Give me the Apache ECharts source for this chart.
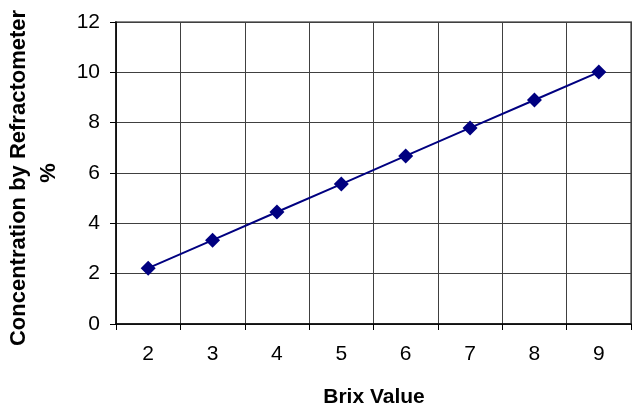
<!DOCTYPE html>
<html>
<head>
<meta charset="utf-8">
<script src="https://cdn.jsdelivr.net/npm/echarts@6/dist/echarts.min.js"></script>
<style>
html,body{margin:0;padding:0;background:#fff;}
#chart{width:632px;height:409px;}
</style>
</head>
<body>
<div id="chart"></div>
<script>
var categories = ['2', '3', '4', '5', '6', '7', '8', '9'];
var concentration = [2.22, 3.33, 4.45, 5.56, 6.68, 7.79, 8.90, 10.01];
var yTitleLine1 = 'Concentration by Refractometer';
var yTitleLine2 = '%';
var xTitle = 'Brix Value';

var chart = echarts.init(document.getElementById('chart'), null, {renderer: 'canvas'});
var FONT = '"Liberation Sans", Arial, sans-serif';
chart.setOption({
  animation: false,
  backgroundColor: '#ffffff',
  grid: {
    left: 116, right: 1, top: 22, bottom: 85,
    show: true, borderColor: '#888888', borderWidth: 2, backgroundColor: 'transparent'
  },
  xAxis: {
    type: 'category',
    data: categories,
    boundaryGap: true,
    axisLine: {show: true, lineStyle: {color: '#000', width: 1.5}},
    axisTick: {show: true, alignWithLabel: false, length: 6, inside: false, lineStyle: {color: '#000', width: 1}},
    axisLabel: {color: '#000', fontFamily: FONT, fontSize: 21, margin: 20},
    splitLine: {show: true, lineStyle: {color: '#404040', width: 1}}
  },
  yAxis: {
    type: 'value',
    min: 0, max: 12, interval: 2,
    axisLine: {show: true, lineStyle: {color: '#000', width: 1.5}},
    axisTick: {show: true, length: 6, lineStyle: {color: '#000', width: 1}},
    axisLabel: {color: '#000', fontFamily: FONT, fontSize: 21, margin: 16},
    splitLine: {show: true, lineStyle: {color: '#404040', width: 1}}
  },
  graphic: [
    {type: 'text', x: 374, y: 397, style: {text: xTitle, font: 'bold 21px ' + FONT, fill: '#000', textAlign: 'center', textVerticalAlign: 'middle'}},
    {type: 'text', x: 19, y: 178, rotation: Math.PI / 2, style: {text: yTitleLine1, font: 'bold 22px ' + FONT, fill: '#000', textAlign: 'center', textVerticalAlign: 'middle'}},
    {type: 'text', x: 49, y: 173, rotation: Math.PI / 2, style: {text: yTitleLine2, font: 'bold 22px ' + FONT, fill: '#000', textAlign: 'center', textVerticalAlign: 'middle'}}
  ],
  series: [{
    type: 'line',
    data: concentration,
    symbol: 'diamond',
    symbolSize: 15,
    showSymbol: true,
    lineStyle: {color: '#000080', width: 2},
    itemStyle: {color: '#000080'}
  }]
});
</script>
</body>
</html>
